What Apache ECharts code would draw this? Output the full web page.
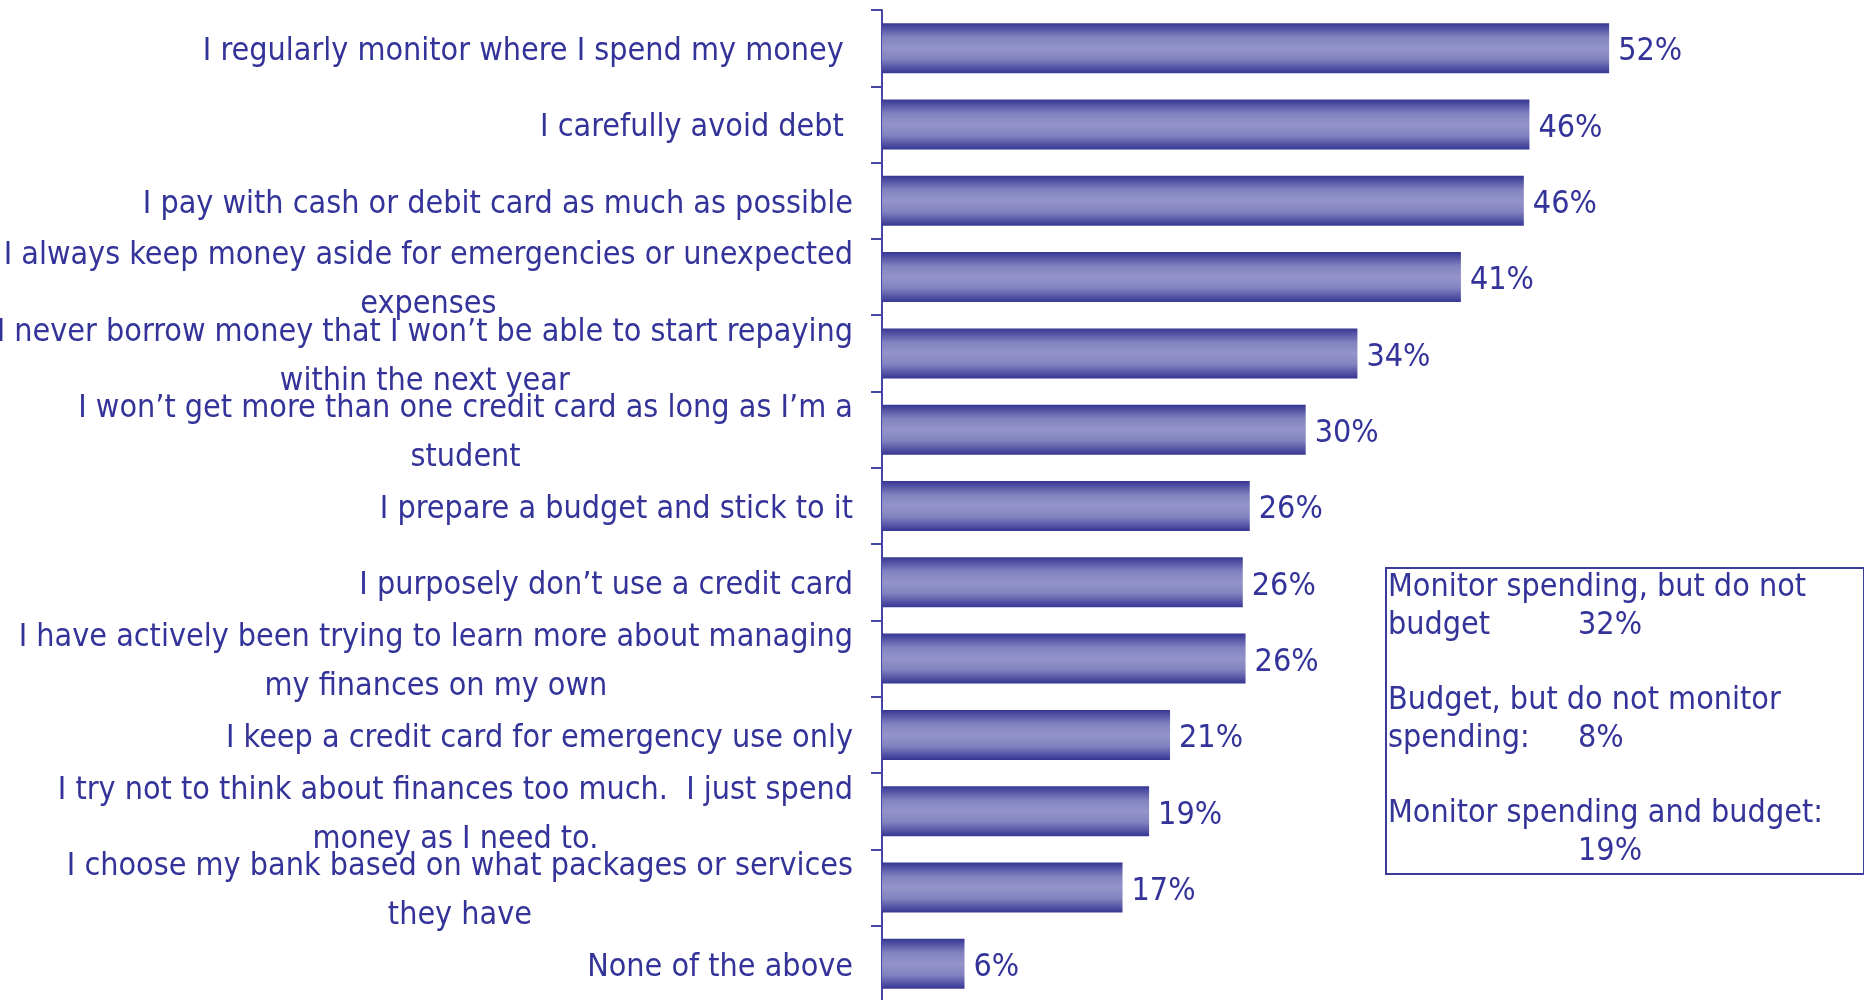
<!DOCTYPE html>
<html>
<head>
<meta charset="utf-8">
<script src="https://cdn.jsdelivr.net/npm/echarts@6/dist/echarts.min.js"></script>
<style>
html,body{margin:0;padding:0;background:#ffffff;}
#chart{width:1864px;height:1000px;}
</style>
</head>
<body>
<div id="chart"></div>
<script>
const categories = [
  "I regularly monitor where I spend my money ",
  "I carefully avoid debt ",
  "I pay with cash or debit card as much as possible",
  "I always keep money aside for emergencies or unexpected\nexpenses",
  "I never borrow money that I won\u2019t be able to start repaying\nwithin the next year",
  "I won\u2019t get more than one credit card as long as I\u2019m a\nstudent",
  "I prepare a budget and stick to it",
  "I purposely don\u2019t use a credit card",
  "I have actively been trying to learn more about managing\nmy finances on my own",
  "I keep a credit card for emergency use only",
  "I try not to think about finances too much.  I just spend\nmoney as I need to.",
  "I choose my bank based on what packages or services\nthey have",
  "None of the above"
];
const values = [52, 46.3, 45.9, 41.4, 34.0, 30.3, 26.3, 25.8, 26.0, 20.6, 19.1, 17.2, 5.9];

const boxLabels = ["Monitor spending, but do not\nbudget", "Budget, but do not monitor\nspending:", "Monitor spending and budget:"];
const boxValues = ["32%", "8%", "19%"];

const FONT = "'DejaVu Sans Condensed', 'DejaVu Sans', sans-serif";
const TXT = '#333399';

const chart = echarts.init(document.getElementById('chart'), null, {renderer: 'canvas'});

const boxGraphics = [];
boxGraphics.push({
  type: 'rect', left: 1385, top: 567, z: 10,
  shape: {width: 478, height: 306},
  style: {fill: 'rgba(0,0,0,0)', stroke: '#3c3c9c', lineWidth: 2}
});
const LH = 37.7;
boxLabels.forEach((lab, i) => {
  const top = 569 + i * 3 * LH;
  boxGraphics.push({
    type: 'text', left: 1388, top: top, z: 11,
    style: {text: lab, font: '32px ' + FONT, fill: TXT, lineHeight: LH}
  });
  boxGraphics.push({
    type: 'text', left: 1578, top: top + LH, z: 11,
    style: {text: boxValues[i], font: '32px ' + FONT, fill: TXT, lineHeight: LH}
  });
});

chart.setOption({
  backgroundColor: '#ffffff',
  animation: false,
  grid: {left: 882, top: 10, width: 839, height: 992, containLabel: false, outerBoundsMode: 'none'},
  xAxis: {
    type: 'value', min: 0, max: 60, show: false
  },
  yAxis: {
    type: 'category',
    data: categories,
    inverse: true,
    axisLine: {show: true, lineStyle: {color: '#4646a4', width: 2}},
    axisTick: {show: true, length: 11, lineStyle: {color: '#4646a4', width: 2}},
    axisLabel: {
      margin: 29,
      interval: 0,
      align: 'right',
      hideOverlap: false,
      padding: [7, 0, 0, 0],
      formatter: v => v.split('\n').map(s => '{c|' + s + '}').join('\n'),
      rich: {
        c: {align: 'center', fontSize: 32, fontFamily: FONT, color: TXT, lineHeight: 49}
      }
    },
    splitLine: {show: false}
  },
  series: [{
    type: 'bar',
    data: values,
    barWidth: '65.5%',
    itemStyle: {
      color: {
        type: 'linear', x: 0, y: 0, x2: 0, y2: 1,
        colorStops: [
          {offset: 0, color: '#363694'},
          {offset: 0.28, color: '#8282c0'},
          {offset: 0.5, color: '#9494ca'},
          {offset: 0.72, color: '#8282c0'},
          {offset: 1, color: '#363694'}
        ]
      }
    },
    label: {
      show: true,
      position: 'right',
      distance: 9,
      offset: [0, 4],
      fontSize: 32,
      fontFamily: FONT,
      color: TXT,
      formatter: p => Math.round(p.value) + '%'
    }
  }],
  graphic: boxGraphics
});
</script>
</body>
</html>
